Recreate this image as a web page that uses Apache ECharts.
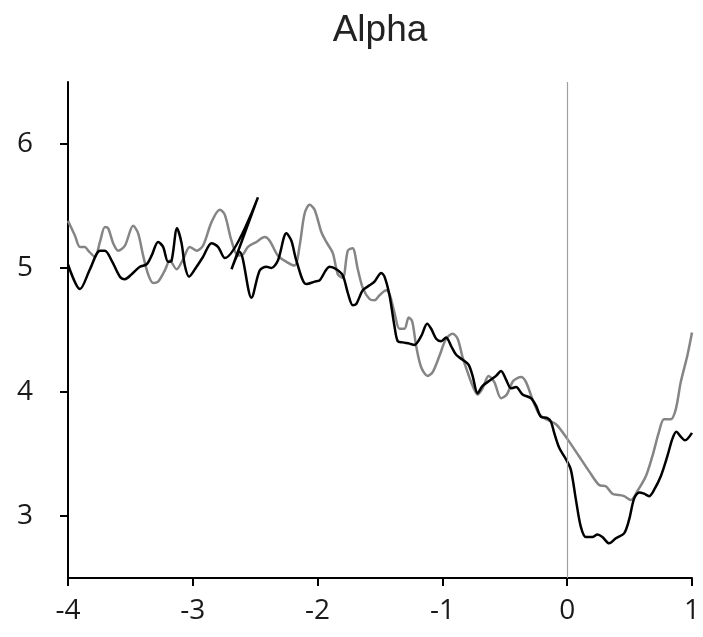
<!DOCTYPE html>
<html>
<head>
<meta charset="utf-8">
<title>Alpha</title>
<script src="https://cdn.jsdelivr.net/npm/echarts@6/dist/echarts.min.js"></script>
<style>
	html, body { margin: 0; padding: 0; background: #fff; }
	#main { width: 703px; height: 637px; }
</style>
</head>
<body>
<div id="main"></div>
<script>
//x轴刻度
var xTicks = [-4, -3, -2, -1, 0, 1];
//y轴刻度
var yTicks = [3, 4, 5, 6];

//黑线
var blackX = [-4.000, -3.904, -3.824, -3.744, -3.704, -3.650, -3.584, -3.544, -3.490, -3.424,
	-3.370, -3.330, -3.278, -3.238, -3.198, -3.170, -3.126, -3.090, -3.064, -3.030,
	-2.970, -2.918, -2.850, -2.798, -2.744, -2.478, -2.690, -2.624, -2.530, -2.464,
	-2.410, -2.370, -2.318, -2.250, -2.210, -2.170, -2.090, -2.024, -1.984, -1.904,
	-1.850, -1.798, -1.758, -1.718, -1.690, -1.638, -1.584, -1.544, -1.490, -1.464,
	-1.424, -1.384, -1.358, -1.318, -1.264, -1.224, -1.170, -1.122, -1.090, -1.050,
	-1.010, -0.970, -0.930, -0.890, -0.838, -0.790, -0.758, -0.718, -0.678, -0.624,
	-0.570, -0.530, -0.490, -0.450, -0.410, -0.358, -0.290, -0.250, -0.210, -0.158,
	-0.130, -0.104, -0.064, -0.006, 0.030, 0.070, 0.110, 0.150, 0.202, 0.242,
	0.282, 0.336, 0.390, 0.456, 0.496, 0.536, 0.576, 0.616, 0.656, 0.696,
	0.750, 0.802, 0.842, 0.874, 0.910, 0.944, 1.000];
var blackY = [5.03, 4.83, 4.99, 5.14, 5.14, 5.06, 4.93, 4.91, 4.95, 5.01,
	5.03, 5.10, 5.21, 5.17, 5.05, 5.06, 5.32, 5.20, 5.02, 4.93,
	5.01, 5.09, 5.20, 5.17, 5.08, 5.57, 4.99, 5.13, 4.76, 4.98,
	5.01, 5.00, 5.06, 5.28, 5.22, 5.06, 4.87, 4.89, 4.90, 5.01,
	4.99, 4.94, 4.80, 4.70, 4.71, 4.82, 4.86, 4.89, 4.96, 4.93,
	4.78, 4.53, 4.41, 4.40, 4.39, 4.38, 4.45, 4.55, 4.51, 4.43,
	4.41, 4.44, 4.37, 4.30, 4.26, 4.22, 4.13, 3.99, 4.05, 4.09,
	4.13, 4.17, 4.10, 4.03, 4.04, 3.98, 3.95, 3.89, 3.80, 3.79,
	3.76, 3.67, 3.55, 3.45, 3.37, 3.13, 2.91, 2.83, 2.83, 2.85,
	2.83, 2.78, 2.82, 2.86, 2.97, 3.14, 3.19, 3.18, 3.16, 3.21,
	3.32, 3.48, 3.62, 3.68, 3.64, 3.61, 3.67];

//灰线
var grayX = [-4.000, -3.944, -3.904, -3.864, -3.838, -3.784, -3.744, -3.704, -3.678, -3.638,
	-3.598, -3.544, -3.478, -3.438, -3.398, -3.358, -3.318, -3.278, -3.224, -3.184,
	-3.130, -3.078, -3.024, -2.970, -2.918, -2.850, -2.784, -2.744, -2.690, -2.638,
	-2.598, -2.558, -2.490, -2.424, -2.384, -2.318, -2.250, -2.184, -2.144, -2.104,
	-2.064, -2.024, -1.970, -1.930, -1.878, -1.838, -1.798, -1.758, -1.720, -1.678,
	-1.638, -1.584, -1.544, -1.504, -1.450, -1.424, -1.384, -1.344, -1.304, -1.270,
	-1.242, -1.210, -1.170, -1.118, -1.078, -1.024, -0.970, -0.918, -0.878, -0.838,
	-0.798, -0.758, -0.718, -0.678, -0.630, -0.584, -0.530, -0.484, -0.432, -0.370,
	-0.330, -0.278, -0.224, -0.170, -0.090, 0.002, 0.096, 0.176, 0.256, 0.310,
	0.362, 0.416, 0.456, 0.510, 0.562, 0.630, 0.682, 0.736, 0.776, 0.830,
	0.870, 0.910, 0.962, 1.000];
var grayY = [5.38, 5.26, 5.17, 5.17, 5.14, 5.09, 5.21, 5.33, 5.32, 5.20,
	5.14, 5.18, 5.34, 5.28, 5.10, 4.95, 4.88, 4.89, 4.98, 5.06,
	4.99, 5.07, 5.17, 5.14, 5.18, 5.37, 5.47, 5.43, 5.22, 5.10,
	5.11, 5.17, 5.21, 5.25, 5.22, 5.10, 5.05, 5.02, 5.18, 5.44,
	5.51, 5.47, 5.29, 5.21, 5.12, 4.95, 4.92, 5.14, 5.16, 4.99,
	4.84, 4.75, 4.74, 4.78, 4.82, 4.79, 4.64, 4.51, 4.51, 4.60,
	4.57, 4.37, 4.20, 4.13, 4.16, 4.29, 4.43, 4.47, 4.43, 4.28,
	4.16, 4.05, 3.98, 4.03, 4.13, 4.08, 3.95, 3.98, 4.09, 4.12,
	4.08, 3.94, 3.82, 3.78, 3.74, 3.62, 3.48, 3.36, 3.25, 3.24,
	3.18, 3.17, 3.16, 3.13, 3.20, 3.32, 3.48, 3.68, 3.78, 3.78,
	3.86, 4.08, 4.29, 4.48];

//x,y合成点
function toPairs(xs, ys) {
	var arr = [];
	for (var i = 0; i < xs.length; i++) {
		arr.push([xs[i], ys[i]]);
	}
	return arr;
}

var myChart = echarts.init(document.getElementById('main'), null, { renderer: 'canvas' });

var axisFont = "'Open Sans', 'Noto Sans', sans-serif";

var option = {
	animation: false,
	backgroundColor: '#fff',
	title: {
		text: 'Alpha',
		left: 375,
		top: 7,
		textAlign: 'center',
		textStyle: {
			fontFamily: "'Liberation Sans', Arial, sans-serif",
			fontSize: 37,
			fontWeight: 'normal',
			color: '#222'
		}
	},
	grid: {
		left: 68,
		right: 10,
		top: 82,
		bottom: 59
	},
	xAxis: {
		type: 'value',
		min: -4,
		max: 1,
		interval: 1,
		axisLine: { onZero: false, lineStyle: { color: '#000', width: 2 } },
		axisTick: { show: true, length: 8, lineStyle: { color: '#000', width: 2 } },
		axisLabel: {
			margin: 19,
			fontFamily: axisFont,
			fontSize: 28,
			color: '#1a1a1a',
			customValues: xTicks
		},
		splitLine: { show: false }
	},
	yAxis: {
		type: 'value',
		min: 2.5,
		max: 6.5,
		axisLine: { show: true, onZero: false, lineStyle: { color: '#000', width: 2 } },
		axisTick: { show: true, length: 8, lineStyle: { color: '#000', width: 2 }, customValues: yTicks },
		axisLabel: {
			margin: 35,
			fontFamily: axisFont,
			fontSize: 28,
			color: '#1a1a1a',
			customValues: yTicks
		},
		splitLine: { show: false }
	},
	series: [
		{
			name: 'gray',
			type: 'line',
			data: toPairs(grayX, grayY),
			showSymbol: false,
			smooth: 0.3,
			lineStyle: { color: '#858585', width: 2.5 },
			markLine: {
				silent: true,
				symbol: ['none', 'none'],
				label: { show: false },
				lineStyle: { color: '#a0a0a0', width: 1.2, type: 'solid' },
				data: [{ xAxis: 0 }]
			}
		},
		{
			name: 'black',
			type: 'line',
			data: toPairs(blackX, blackY),
			showSymbol: false,
			smooth: 0.3,
			lineStyle: { color: '#000', width: 2.5 }
		}
	]
};

myChart.setOption(option);
</script>
</body>
</html>
